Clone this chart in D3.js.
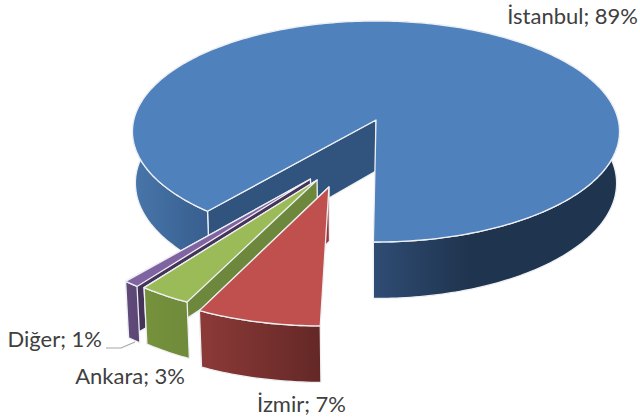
<!DOCTYPE html>
<html><head><meta charset="utf-8">
<script src="https://cdn.jsdelivr.net/npm/d3@7"></script>
<style>html,body{margin:0;padding:0;background:#fff}svg{display:block}</style>
</head><body><svg id="c" width="640" height="420"></svg>
<script>
const categories = ["İstanbul","İzmir","Ankara","Diğer"];
const shares = [89.1,7,3,0.9];
const topColors = ["#4f81bd","#c0504d","#9bbb59","#8064a2"];
const cutColors = ["#31547e","#96383a","#6d883c","#453359"];
const rimStops = [
 [["133","#4876aa"],["209","#375e8e"],["374","#2f4c74"],["470","#1f344e"],["620","#1f344e"]],
 [["200","#8c3a38"],["320","#642826"]],
 [["143","#76923c"],["190","#6f8a3a"]],
 [["127","#604a7b"],["141","#5a4574"]]
];
const explodeAngle = [0,197.6,203.9,206.6];
const explodeDist = [0,0.604,0.568,0.572];
const labelX = [638,346,185,102], labelY = [24,412,384,347];

const svg = d3.select("#c"), defs = svg.append("defs");
const persp = 0.104, rad = Math.PI/180;
const xS = d3.scaleLinear().domain([-1,1]).range([376-242.2,376+242.2]);
const yS = d3.scaleLinear().domain([-1,1]).range([120+109.3,120-109.3]);
const xSb = d3.scaleLinear().domain([-1,1]).range([376-242.2*.988,376+242.2*.988]);

function topPt(u,v){const w=1+persp*v;return [xS(u/w),yS(v/w)];}
function botPt(u,v){const w=1+persp*v;const t=topPt(u,v);
  return [xSb(u/w),t[1]+51+5.5*Math.min(1,Math.max(0,-v))];}
const line = d3.line();

const arcs = d3.pie().sort(null).value(d=>d)
  .startAngle(-140.2*rad).endAngle(219.8*rad)(shares);

const order = [0,3,2,1];
order.forEach(i=>{
  const a = arcs[i], ex = explodeDist[i]*Math.sin(explodeAngle[i]*rad), ey = explodeDist[i]*Math.cos(explodeAngle[i]*rad);
  const n = Math.max(4,Math.ceil((a.endAngle-a.startAngle)/rad));
  const rimUV = d3.range(n+1).map(k=>{
    const t=a.startAngle+(a.endAngle-a.startAngle)*k/n;
    return [ex+Math.sin(t),ey+Math.cos(t)];});
  const g = svg.append("g").attr("class","slice");
  const id = "rim"+i;
  const lg = defs.append("linearGradient").attr("id",id).attr("gradientUnits","userSpaceOnUse")
    .attr("x1",rimStops[i][0][0]).attr("x2",rimStops[i][rimStops[i].length-1][0]).attr("y1",0).attr("y2",0);
  const x0=+rimStops[i][0][0], x1=+rimStops[i][rimStops[i].length-1][0];
  rimStops[i].forEach(s=>lg.append("stop").attr("offset",(+s[0]-x0)/(x1-x0)).attr("stop-color",s[1]));
  const edge={stroke:"#eef0f3","stroke-width":1.3,"stroke-linejoin":"round"};
  const style=(p,o)=>{Object.entries(o).forEach(([k,v])=>p.attr(k,v));return p;};
  const first=rimUV[0], last=rimUV[n];
  const faceA=[topPt(ex,ey),topPt(...first),botPt(...first),botPt(ex,ey)];
  const faceB=[topPt(ex,ey),topPt(...last),botPt(...last),botPt(ex,ey)];
  if(i===0){
    style(g.append("path").attr("d",line(faceA)+"Z").attr("fill",cutColors[i]),edge);
  } else {
    style(g.append("path").attr("d",line(faceB)+"Z").attr("fill",cutColors[i]),edge);
  }
  const rim=rimUV.map(p=>topPt(...p)).concat(rimUV.slice().reverse().map(p=>botPt(...p)));
  style(g.append("path").attr("d",line(rim)+"Z").attr("fill","url(#"+id+")"),edge);
  const top=[topPt(ex,ey)].concat(rimUV.map(p=>topPt(...p)));
  style(g.append("path").attr("d",line(top)+"Z").attr("fill",topColors[i]),edge);
});

svg.append("path").attr("d",line([[106,348],[121,348],[135,342]]))
  .attr("fill","none").attr("stroke","#a6a6a6").attr("stroke-width",1.2);

svg.append("g").selectAll("text").data(categories).join("text")
  .attr("x",(d,i)=>labelX[i]).attr("y",(d,i)=>labelY[i])
  .attr("text-anchor","end").attr("fill","#404040")
  .attr("font-family","Lato, 'Open Sans', sans-serif").attr("font-size",22)
  .text((d,i)=>d+"; "+Math.round(shares[i])+"%");
</script></body></html>
